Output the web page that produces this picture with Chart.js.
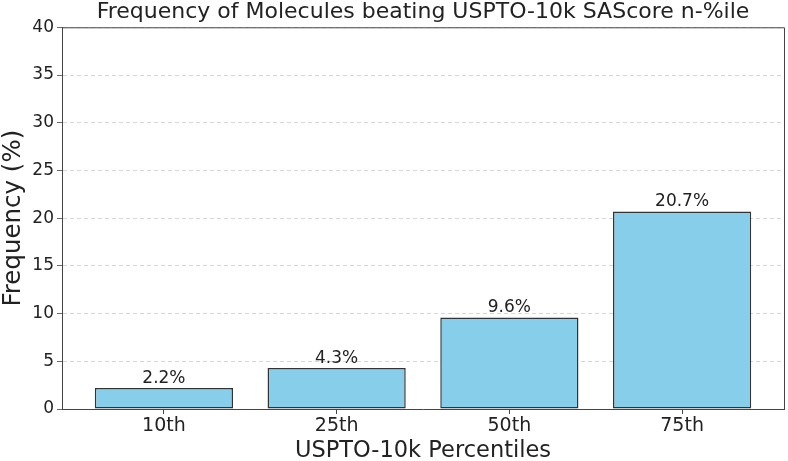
<!DOCTYPE html>
<html>
<head>
<meta charset="utf-8">
<script src="https://cdn.jsdelivr.net/npm/chart.js@4.4.1/dist/chart.umd.min.js"></script>
<style>
  html, body { margin: 0; padding: 0; background: #fff; }
  #wrap { width: 788px; height: 461px; }
</style>
</head>
<body>
<div id="wrap"><canvas id="freqChart"></canvas></div>
<script>
const percentiles = ['10th', '25th', '50th', '75th'];
const frequency = [2.2, 4.3, 9.6, 20.7];
const yTicks = [0, 5, 10, 15, 20, 25, 30, 35, 40];

const FONT = "'DejaVu Sans', sans-serif";
const TEXT = '#222';
const AXIS = '#444';

// top and right spines like matplotlib
const frame = {
    id: 'frame',
    beforeDatasetsDraw(chart) {
        const { ctx, chartArea: a } = chart;
        ctx.save();
        ctx.strokeStyle = AXIS;
        ctx.lineWidth = 1;
        ctx.beginPath();
        ctx.moveTo(a.left, a.top + 0.5);
        ctx.lineTo(a.right + 0.5, a.top + 0.5);
        ctx.lineTo(a.right + 0.5, a.bottom);
        ctx.stroke();
        ctx.restore();
    }
};

// center the title over the plot area, not the canvas
const titleOverPlot = {
    id: 'titleOverPlot',
    afterLayout(chart) {
        const t = chart.titleBlock;
        if (t) {
            t.left = chart.chartArea.left;
            t.right = chart.chartArea.right;
            t.width = t.right - t.left;
        }
    }
};

const barValues = {
    id: 'barValues',
    afterDatasetsDraw(chart) {
        const { ctx } = chart;
        const meta = chart.getDatasetMeta(0);
        ctx.save();
        ctx.font = '17px ' + FONT;
        ctx.fillStyle = TEXT;
        ctx.textAlign = 'center';
        ctx.textBaseline = 'bottom';
        meta.data.forEach((bar, i) => {
            ctx.fillText(frequency[i].toFixed(1) + '%', bar.x, bar.y - 1);
        });
        ctx.restore();
    }
};

const ctx = document.getElementById('freqChart').getContext('2d');

const chart = new Chart(ctx, {
    type: 'bar',
    data: {
        datasets: [{
            data: frequency.map((v, i) => ({ x: i, y: v })),
            backgroundColor: '#87CEEB',
            borderColor: '#333',
            borderWidth: 1.5,
            borderSkipped: false,
            barPercentage: 0.8,
            categoryPercentage: 1
        }]
    },
    options: {
        responsive: true,
        maintainAspectRatio: false,
        animation: false,
        layout: { padding: { top: 0, right: 4, bottom: 0, left: 0 } },
        plugins: {
            legend: { display: false },
            tooltip: { enabled: false },
            title: {
                display: true,
                text: 'Frequency of Molecules beating USPTO-10k SAScore n-%ile',
                color: TEXT,
                font: { family: FONT, size: 22, weight: 'normal', lineHeight: 1.15 },
                padding: { top: 0, bottom: 2 }
            }
        },
        scales: {
            x: {
                type: 'linear',
                offset: false,
                min: -0.59,
                max: 3.59,
                afterBuildTicks: (axis) => {
                    axis.ticks = percentiles.map((_, i) => ({ value: i }));
                },
                afterFit: (axis) => { axis.height = 52; },
                ticks: {
                    color: TEXT,
                    font: { family: FONT, size: 19 },
                    padding: 1,
                    autoSkip: false,
                    maxRotation: 0,
                    callback: (v) => percentiles[v]
                },
                grid: {
                    offset: false,
                    drawOnChartArea: false,
                    tickLength: 5,
                    tickColor: AXIS
                },
                border: { color: AXIS, width: 1 },
                title: {
                    display: true,
                    text: 'USPTO-10k Percentiles',
                    color: TEXT,
                    font: { family: FONT, size: 22.5, lineHeight: 1 },
                    padding: { top: 0, bottom: -1 }
                }
            },
            y: {
                min: 0,
                max: 40,
                afterBuildTicks: (axis) => {
                    axis.ticks = yTicks.map(v => ({ value: v }));
                },
                afterFit: (axis) => { axis.width = 62; },
                ticks: {
                    color: TEXT,
                    font: { family: FONT, size: 17 },
                    padding: 3
                },
                grid: {
                    color: 'rgba(0,0,0,0.2)',
                    lineWidth: 0.8,
                    tickLength: 5,
                    tickColor: AXIS,
                    tickBorderDash: []
                },
                border: { color: AXIS, width: 1, dash: [4, 3] },
                title: {
                    display: true,
                    text: 'Frequency (%)',
                    color: TEXT,
                    font: { family: FONT, size: 24.5, lineHeight: 1 },
                    padding: { top: 1, bottom: 0 }
                }
            }
        }
    },
    plugins: [frame, titleOverPlot, barValues]
});
</script>
</body>
</html>
